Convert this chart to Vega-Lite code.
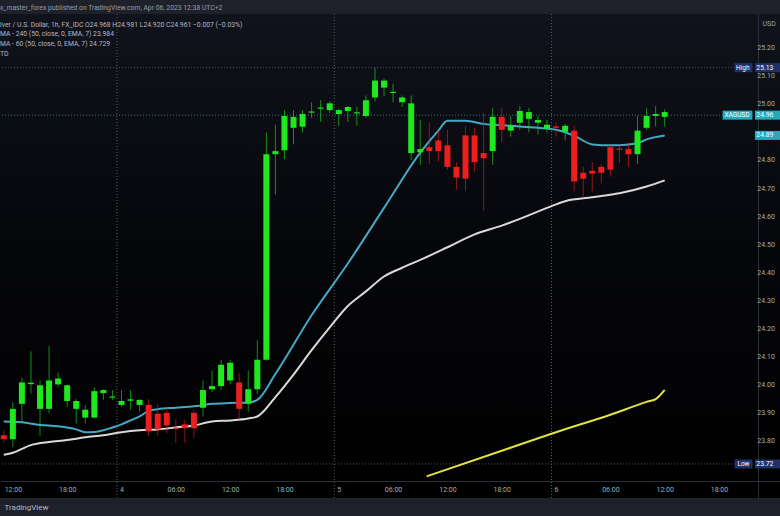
{
  "$schema": "https://vega.github.io/schema/vega-lite/v6.json",
  "width": 780,
  "height": 484,
  "autosize": {"type": "none"},
  "padding": {"left": 0, "top": 14, "right": 0, "bottom": 18},
  "background": "#1e212a",
  "title": {
    "text": "x_master_forex published on TradingView.com, Apr 06, 2023 12:38 UTC+2",
    "subtitle": [
      "lver / U.S. Dollar, 1h, FX_IDC   O24.968  H24.981  L24.920  C24.961  −0.007 (−0.03%)",
      "MA - 240 (50, close, 0, EMA, 7)  23.984",
      "MA - 60 (50, close, 0, EMA, 7)  24.729",
      "TD"
    ],
    "anchor": "start",
    "frame": "group",
    "offset": -44,
    "font": "Roboto",
    "fontSize": 6.8,
    "fontWeight": "normal",
    "color": "#9a9ea8",
    "subtitleFont": "Roboto",
    "subtitleFontSize": 6.8,
    "subtitleColor": "#b4b8c2",
    "subtitlePadding": 10,
    "subtitleLineHeight": 9.6
  },
  "datasets": {
    "candles": [
      {"t": "2023-04-03T11:00:00", "open": 23.822, "high": 23.840, "low": 23.795, "close": 23.808},
      {"t": "2023-04-03T12:00:00", "open": 23.808, "high": 23.940, "low": 23.780, "close": 23.916},
      {"t": "2023-04-03T13:00:00", "open": 23.934, "high": 24.028, "low": 23.871, "close": 24.010},
      {"t": "2023-04-03T14:00:00", "open": 24.004, "high": 24.120, "low": 23.970, "close": 24.009},
      {"t": "2023-04-03T15:00:00", "open": 23.916, "high": 24.017, "low": 23.820, "close": 24.000},
      {"t": "2023-04-03T16:00:00", "open": 23.916, "high": 24.140, "low": 23.900, "close": 24.017},
      {"t": "2023-04-03T17:00:00", "open": 24.003, "high": 24.045, "low": 23.993, "close": 24.024},
      {"t": "2023-04-03T18:00:00", "open": 23.944, "high": 24.003, "low": 23.923, "close": 24.000},
      {"t": "2023-04-03T19:00:00", "open": 23.916, "high": 23.951, "low": 23.864, "close": 23.944},
      {"t": "2023-04-03T20:00:00", "open": 23.885, "high": 23.930, "low": 23.864, "close": 23.913},
      {"t": "2023-04-03T21:00:00", "open": 23.885, "high": 23.993, "low": 23.882, "close": 23.979},
      {"t": "2023-04-03T22:00:00", "open": 23.972, "high": 23.986, "low": 23.948, "close": 23.983},
      {"t": "2023-04-03T23:00:00", "open": 23.956, "high": 23.983, "low": 23.948, "close": 23.960},
      {"t": "2023-04-04T00:00:00", "open": 23.930, "high": 23.983, "low": 23.923, "close": 23.944},
      {"t": "2023-04-04T01:00:00", "open": 23.945, "high": 23.983, "low": 23.913, "close": 23.950},
      {"t": "2023-04-04T02:00:00", "open": 23.930, "high": 23.951, "low": 23.906, "close": 23.948},
      {"t": "2023-04-04T03:00:00", "open": 23.930, "high": 23.951, "low": 23.819, "close": 23.836},
      {"t": "2023-04-04T04:00:00", "open": 23.899, "high": 23.934, "low": 23.819, "close": 23.843},
      {"t": "2023-04-04T05:00:00", "open": 23.902, "high": 23.923, "low": 23.829, "close": 23.857},
      {"t": "2023-04-04T06:00:00", "open": 23.849, "high": 23.882, "low": 23.794, "close": 23.845},
      {"t": "2023-04-04T07:00:00", "open": 23.861, "high": 23.878, "low": 23.794, "close": 23.847},
      {"t": "2023-04-04T08:00:00", "open": 23.902, "high": 23.913, "low": 23.812, "close": 23.847},
      {"t": "2023-04-04T09:00:00", "open": 23.920, "high": 24.017, "low": 23.889, "close": 23.983},
      {"t": "2023-04-04T10:00:00", "open": 23.986, "high": 24.052, "low": 23.976, "close": 23.997},
      {"t": "2023-04-04T11:00:00", "open": 23.997, "high": 24.091, "low": 23.983, "close": 24.073},
      {"t": "2023-04-04T12:00:00", "open": 24.017, "high": 24.091, "low": 24.003, "close": 24.080},
      {"t": "2023-04-04T13:00:00", "open": 24.010, "high": 24.045, "low": 23.878, "close": 23.916},
      {"t": "2023-04-04T14:00:00", "open": 23.934, "high": 24.052, "low": 23.906, "close": 23.986},
      {"t": "2023-04-04T15:00:00", "open": 23.986, "high": 24.160, "low": 23.969, "close": 24.091},
      {"t": "2023-04-04T16:00:00", "open": 24.091, "high": 24.899, "low": 24.087, "close": 24.822},
      {"t": "2023-04-04T17:00:00", "open": 24.822, "high": 24.927, "low": 24.679, "close": 24.833},
      {"t": "2023-04-04T18:00:00", "open": 24.836, "high": 24.979, "low": 24.805, "close": 24.958},
      {"t": "2023-04-04T19:00:00", "open": 24.916, "high": 24.979, "low": 24.857, "close": 24.955},
      {"t": "2023-04-04T20:00:00", "open": 24.920, "high": 24.979, "low": 24.899, "close": 24.965},
      {"t": "2023-04-04T21:00:00", "open": 24.970, "high": 25.007, "low": 24.951, "close": 24.974},
      {"t": "2023-04-04T22:00:00", "open": 24.984, "high": 25.014, "low": 24.937, "close": 24.988},
      {"t": "2023-04-04T23:00:00", "open": 24.979, "high": 25.010, "low": 24.969, "close": 25.003},
      {"t": "2023-04-05T00:00:00", "open": 24.965, "high": 24.983, "low": 24.923, "close": 24.979},
      {"t": "2023-04-05T01:00:00", "open": 24.976, "high": 24.993, "low": 24.937, "close": 24.990},
      {"t": "2023-04-05T02:00:00", "open": 24.967, "high": 24.990, "low": 24.923, "close": 24.971},
      {"t": "2023-04-05T03:00:00", "open": 24.958, "high": 25.031, "low": 24.951, "close": 25.014},
      {"t": "2023-04-05T04:00:00", "open": 25.024, "high": 25.129, "low": 25.010, "close": 25.084},
      {"t": "2023-04-05T05:00:00", "open": 25.059, "high": 25.091, "low": 25.028, "close": 25.084},
      {"t": "2023-04-05T06:00:00", "open": 25.040, "high": 25.073, "low": 25.007, "close": 25.044},
      {"t": "2023-04-05T07:00:00", "open": 25.007, "high": 25.031, "low": 24.990, "close": 25.024},
      {"t": "2023-04-05T08:00:00", "open": 24.826, "high": 25.031, "low": 24.801, "close": 25.003},
      {"t": "2023-04-05T09:00:00", "open": 24.829, "high": 24.944, "low": 24.784, "close": 24.840},
      {"t": "2023-04-05T10:00:00", "open": 24.847, "high": 24.934, "low": 24.787, "close": 24.833},
      {"t": "2023-04-05T11:00:00", "open": 24.871, "high": 24.906, "low": 24.796, "close": 24.833},
      {"t": "2023-04-05T12:00:00", "open": 24.854, "high": 24.909, "low": 24.767, "close": 24.777},
      {"t": "2023-04-05T13:00:00", "open": 24.777, "high": 24.794, "low": 24.697, "close": 24.739},
      {"t": "2023-04-05T14:00:00", "open": 24.889, "high": 24.923, "low": 24.690, "close": 24.735},
      {"t": "2023-04-05T15:00:00", "open": 24.889, "high": 24.916, "low": 24.760, "close": 24.794},
      {"t": "2023-04-05T16:00:00", "open": 24.826, "high": 24.969, "low": 24.620, "close": 24.808},
      {"t": "2023-04-05T17:00:00", "open": 24.833, "high": 24.986, "low": 24.784, "close": 24.955},
      {"t": "2023-04-05T18:00:00", "open": 24.955, "high": 24.986, "low": 24.864, "close": 24.909},
      {"t": "2023-04-05T19:00:00", "open": 24.906, "high": 24.958, "low": 24.885, "close": 24.923},
      {"t": "2023-04-05T20:00:00", "open": 24.934, "high": 24.993, "low": 24.909, "close": 24.976},
      {"t": "2023-04-05T21:00:00", "open": 24.948, "high": 24.986, "low": 24.899, "close": 24.972},
      {"t": "2023-04-05T22:00:00", "open": 24.934, "high": 24.958, "low": 24.892, "close": 24.944},
      {"t": "2023-04-05T23:00:00", "open": 24.913, "high": 24.944, "low": 24.899, "close": 24.927},
      {"t": "2023-04-06T00:00:00", "open": 24.921, "high": 24.934, "low": 24.885, "close": 24.916},
      {"t": "2023-04-06T01:00:00", "open": 24.902, "high": 24.930, "low": 24.871, "close": 24.923},
      {"t": "2023-04-06T02:00:00", "open": 24.906, "high": 24.923, "low": 24.690, "close": 24.725},
      {"t": "2023-04-06T03:00:00", "open": 24.756, "high": 24.777, "low": 24.666, "close": 24.735},
      {"t": "2023-04-06T04:00:00", "open": 24.763, "high": 24.794, "low": 24.690, "close": 24.753},
      {"t": "2023-04-06T05:00:00", "open": 24.777, "high": 24.787, "low": 24.718, "close": 24.756},
      {"t": "2023-04-06T06:00:00", "open": 24.847, "high": 24.854, "low": 24.742, "close": 24.767},
      {"t": "2023-04-06T07:00:00", "open": 24.842, "high": 24.854, "low": 24.791, "close": 24.838},
      {"t": "2023-04-06T08:00:00", "open": 24.840, "high": 24.864, "low": 24.777, "close": 24.822},
      {"t": "2023-04-06T09:00:00", "open": 24.822, "high": 24.958, "low": 24.787, "close": 24.906},
      {"t": "2023-04-06T10:00:00", "open": 24.916, "high": 24.986, "low": 24.909, "close": 24.958},
      {"t": "2023-04-06T11:00:00", "open": 24.958, "high": 24.993, "low": 24.920, "close": 24.965},
      {"t": "2023-04-06T12:00:00", "open": 24.955, "high": 24.981, "low": 24.920, "close": 24.972}
    ],
    "ma": [
      {"t": "2023-04-03T11:00:00", "series": "MA short", "value": 23.871},
      {"t": "2023-04-03T13:00:00", "series": "MA short", "value": 23.868},
      {"t": "2023-04-03T15:00:00", "series": "MA short", "value": 23.859},
      {"t": "2023-04-03T17:00:00", "series": "MA short", "value": 23.854},
      {"t": "2023-04-03T19:00:00", "series": "MA short", "value": 23.843},
      {"t": "2023-04-03T20:00:00", "series": "MA short", "value": 23.833},
      {"t": "2023-04-03T21:00:00", "series": "MA short", "value": 23.834},
      {"t": "2023-04-03T22:00:00", "series": "MA short", "value": 23.840},
      {"t": "2023-04-03T23:00:00", "series": "MA short", "value": 23.850},
      {"t": "2023-04-04T00:00:00", "series": "MA short", "value": 23.861},
      {"t": "2023-04-04T01:00:00", "series": "MA short", "value": 23.875},
      {"t": "2023-04-04T02:00:00", "series": "MA short", "value": 23.889},
      {"t": "2023-04-04T03:00:00", "series": "MA short", "value": 23.909},
      {"t": "2023-04-04T04:00:00", "series": "MA short", "value": 23.915},
      {"t": "2023-04-04T06:00:00", "series": "MA short", "value": 23.920},
      {"t": "2023-04-04T08:00:00", "series": "MA short", "value": 23.925},
      {"t": "2023-04-04T10:00:00", "series": "MA short", "value": 23.934},
      {"t": "2023-04-04T12:00:00", "series": "MA short", "value": 23.937},
      {"t": "2023-04-04T14:00:00", "series": "MA short", "value": 23.939},
      {"t": "2023-04-04T15:00:00", "series": "MA short", "value": 23.948},
      {"t": "2023-04-04T17:00:00", "series": "MA short", "value": 24.040},
      {"t": "2023-04-04T21:00:00", "series": "MA short", "value": 24.249},
      {"t": "2023-04-05T01:00:00", "series": "MA short", "value": 24.433},
      {"t": "2023-04-05T05:00:00", "series": "MA short", "value": 24.631},
      {"t": "2023-04-05T09:00:00", "series": "MA short", "value": 24.828},
      {"t": "2023-04-05T11:00:00", "series": "MA short", "value": 24.906},
      {"t": "2023-04-05T12:00:00", "series": "MA short", "value": 24.941},
      {"t": "2023-04-05T14:00:00", "series": "MA short", "value": 24.941},
      {"t": "2023-04-05T16:00:00", "series": "MA short", "value": 24.930},
      {"t": "2023-04-05T19:00:00", "series": "MA short", "value": 24.923},
      {"t": "2023-04-05T22:00:00", "series": "MA short", "value": 24.916},
      {"t": "2023-04-06T00:00:00", "series": "MA short", "value": 24.909},
      {"t": "2023-04-06T02:00:00", "series": "MA short", "value": 24.888},
      {"t": "2023-04-06T04:00:00", "series": "MA short", "value": 24.857},
      {"t": "2023-04-06T06:00:00", "series": "MA short", "value": 24.854},
      {"t": "2023-04-06T08:00:00", "series": "MA short", "value": 24.857},
      {"t": "2023-04-06T09:00:00", "series": "MA short", "value": 24.861},
      {"t": "2023-04-06T10:00:00", "series": "MA short", "value": 24.875},
      {"t": "2023-04-06T12:00:00", "series": "MA short", "value": 24.889},
      {"t": "2023-04-03T11:00:00", "series": "EMA 60", "value": 23.753},
      {"t": "2023-04-03T12:00:00", "series": "EMA 60", "value": 23.760},
      {"t": "2023-04-03T14:00:00", "series": "EMA 60", "value": 23.787},
      {"t": "2023-04-03T16:00:00", "series": "EMA 60", "value": 23.798},
      {"t": "2023-04-03T18:00:00", "series": "EMA 60", "value": 23.805},
      {"t": "2023-04-03T20:00:00", "series": "EMA 60", "value": 23.815},
      {"t": "2023-04-03T22:00:00", "series": "EMA 60", "value": 23.822},
      {"t": "2023-04-04T00:00:00", "series": "EMA 60", "value": 23.833},
      {"t": "2023-04-04T02:00:00", "series": "EMA 60", "value": 23.840},
      {"t": "2023-04-04T04:00:00", "series": "EMA 60", "value": 23.843},
      {"t": "2023-04-04T06:00:00", "series": "EMA 60", "value": 23.850},
      {"t": "2023-04-04T08:00:00", "series": "EMA 60", "value": 23.857},
      {"t": "2023-04-04T10:00:00", "series": "EMA 60", "value": 23.871},
      {"t": "2023-04-04T12:00:00", "series": "EMA 60", "value": 23.875},
      {"t": "2023-04-04T14:00:00", "series": "EMA 60", "value": 23.882},
      {"t": "2023-04-04T15:00:00", "series": "EMA 60", "value": 23.889},
      {"t": "2023-04-04T17:00:00", "series": "EMA 60", "value": 23.958},
      {"t": "2023-04-04T19:00:00", "series": "EMA 60", "value": 24.038},
      {"t": "2023-04-04T21:00:00", "series": "EMA 60", "value": 24.125},
      {"t": "2023-04-04T23:00:00", "series": "EMA 60", "value": 24.206},
      {"t": "2023-04-05T01:00:00", "series": "EMA 60", "value": 24.282},
      {"t": "2023-04-05T03:00:00", "series": "EMA 60", "value": 24.334},
      {"t": "2023-04-05T05:00:00", "series": "EMA 60", "value": 24.387},
      {"t": "2023-04-05T07:00:00", "series": "EMA 60", "value": 24.418},
      {"t": "2023-04-05T09:00:00", "series": "EMA 60", "value": 24.446},
      {"t": "2023-04-05T12:00:00", "series": "EMA 60", "value": 24.491},
      {"t": "2023-04-05T15:00:00", "series": "EMA 60", "value": 24.537},
      {"t": "2023-04-05T18:00:00", "series": "EMA 60", "value": 24.568},
      {"t": "2023-04-05T20:00:00", "series": "EMA 60", "value": 24.592},
      {"t": "2023-04-05T23:00:00", "series": "EMA 60", "value": 24.631},
      {"t": "2023-04-06T01:00:00", "series": "EMA 60", "value": 24.655},
      {"t": "2023-04-06T04:00:00", "series": "EMA 60", "value": 24.669},
      {"t": "2023-04-06T07:00:00", "series": "EMA 60", "value": 24.683},
      {"t": "2023-04-06T10:00:00", "series": "EMA 60", "value": 24.707},
      {"t": "2023-04-06T12:00:00", "series": "EMA 60", "value": 24.729},
      {"t": "2023-04-05T09:42:00", "series": "EMA 240", "value": 23.676},
      {"t": "2023-04-05T18:00:00", "series": "EMA 240", "value": 23.767},
      {"t": "2023-04-06T00:00:00", "series": "EMA 240", "value": 23.833},
      {"t": "2023-04-06T06:00:00", "series": "EMA 240", "value": 23.895},
      {"t": "2023-04-06T10:00:00", "series": "EMA 240", "value": 23.941},
      {"t": "2023-04-06T11:00:00", "series": "EMA 240", "value": 23.951},
      {"t": "2023-04-06T12:00:00", "series": "EMA 240", "value": 23.984}
    ],
    "sessions": [
      {"t": "2023-04-03T23:30:00"},
      {"t": "2023-04-04T23:30:00"},
      {"t": "2023-04-05T23:30:00"}
    ],
    "levels": [
      {"price": 25.13, "kind": "high"},
      {"price": 24.961, "kind": "last"},
      {"price": 23.72, "kind": "low"}
    ],
    "priceScale": [
      {"price": 23.8}, {"price": 23.9}, {"price": 24.0}, {"price": 24.1}, {"price": 24.2},
      {"price": 24.3}, {"price": 24.4}, {"price": 24.5}, {"price": 24.6}, {"price": 24.7},
      {"price": 24.8}, {"price": 25.0}, {"price": 25.1}, {"price": 25.2}
    ],
    "valueTags": [
      {"price": 25.13, "label": "25.13", "kind": "hl"},
      {"price": 24.961, "label": "24.96", "kind": "last"},
      {"price": 24.889, "label": "24.89", "kind": "last"},
      {"price": 23.72, "label": "23.72", "kind": "hl"}
    ],
    "nameTags": [
      {"price": 25.13, "label": "High", "kind": "hl"},
      {"price": 24.961, "label": "XAGUSD", "kind": "last"},
      {"price": 23.72, "label": "Low", "kind": "hl"}
    ]
  },
  "layer": [
    {
      "data": {"name": "sessions"},
      "mark": {"type": "rule", "strokeDash": [1, 2], "strokeWidth": 1, "color": "#5e5e50"},
      "encoding": {
        "x": {"field": "t", "type": "temporal"}
      }
    },
    {
      "data": {"name": "levels"},
      "mark": {"type": "rule", "strokeDash": [1, 2], "strokeWidth": 1},
      "encoding": {
        "y": {"field": "price", "type": "quantitative"},
        "color": {"condition": {"test": "datum.kind == 'last'", "value": "#3e6e78"}, "value": "#4d515c"}
      }
    },
    {
      "data": {"name": "ma"},
      "mark": {"type": "line", "strokeWidth": 2, "interpolate": "monotone"},
      "encoding": {
        "x": {"field": "t", "type": "temporal"},
        "y": {"field": "value", "type": "quantitative"},
        "color": {
          "field": "series",
          "type": "nominal",
          "scale": {"domain": ["MA short", "EMA 60", "EMA 240"], "range": ["#45a9c6", "#d9d9d9", "#e4e23c"]},
          "legend": null
        }
      }
    },
    {
      "data": {"name": "candles"},
      "mark": {"type": "rule", "strokeWidth": 1, "opacity": 0.6},
      "encoding": {
        "x": {"field": "t", "type": "temporal"},
        "y": {"field": "low", "type": "quantitative"},
        "y2": {"field": "high"},
        "color": {"condition": {"test": "datum.close >= datum.open", "value": "#1fe81f"}, "value": "#ec1e1e"}
      }
    },
    {
      "data": {"name": "candles"},
      "mark": {"type": "bar", "size": 6},
      "encoding": {
        "x": {
          "field": "t",
          "type": "temporal",
          "title": "TradingView",
          "scale": {
            "domain": [
              {"year": 2023, "month": 4, "date": 3, "hours": 11, "minutes": 8},
              {"year": 2023, "month": 4, "date": 7, "hours": 0, "minutes": 11}
            ]
          },
          "axis": {
            "orient": "bottom",
            "offset": -17,
            "values": [
              {"year": 2023, "month": 4, "date": 3, "hours": 12},
              {"year": 2023, "month": 4, "date": 3, "hours": 18},
              {"year": 2023, "month": 4, "date": 4, "hours": 0},
              {"year": 2023, "month": 4, "date": 4, "hours": 6},
              {"year": 2023, "month": 4, "date": 4, "hours": 12},
              {"year": 2023, "month": 4, "date": 4, "hours": 18},
              {"year": 2023, "month": 4, "date": 5, "hours": 0},
              {"year": 2023, "month": 4, "date": 5, "hours": 6},
              {"year": 2023, "month": 4, "date": 5, "hours": 12},
              {"year": 2023, "month": 4, "date": 5, "hours": 18},
              {"year": 2023, "month": 4, "date": 6, "hours": 0},
              {"year": 2023, "month": 4, "date": 6, "hours": 6},
              {"year": 2023, "month": 4, "date": 6, "hours": 12},
              {"year": 2023, "month": 4, "date": 6, "hours": 18}
            ],
            "labelExpr": "hours(datum.value) == 0 ? '' + date(datum.value) : timeFormat(datum.value, '%H:%M')",
            "labelPadding": 4,
            "labelFlush": false,
            "labelOverlap": false,
            "ticks": false,
            "grid": false,
            "domain": true,
            "domainColor": "#2b2f3a",
            "titleAnchor": "start",
            "titleAlign": "left",
            "titleX": 4,
            "titleY": 26,
            "titleBaseline": "middle",
            "titleFont": "Roboto",
            "titleFontSize": 8,
            "titleFontWeight": "normal",
            "titleColor": "#b4b9c3"
          }
        },
        "y": {
          "field": "open",
          "type": "quantitative",
          "title": "USD",
          "scale": {"domain": [23.6167, 25.3031], "zero": false, "nice": false},
          "axis": {
            "orient": "right",
            "offset": -22,
            "labels": false,
            "ticks": false,
            "grid": false,
            "domain": true,
            "domainColor": "#2b2f3a",
            "titleAngle": 0,
            "titleAlign": "left",
            "titleBaseline": "middle",
            "titleX": 4,
            "titleY": 9,
            "titleFont": "Roboto",
            "titleFontSize": 7,
            "titleFontWeight": "normal",
            "titleColor": "#9aa5ae"
          }
        },
        "y2": {"field": "close"},
        "color": {"condition": {"test": "datum.close >= datum.open", "value": "#1fe81f"}, "value": "#ec1e1e"}
      }
    },
    {
      "data": {"name": "priceScale"},
      "mark": {"type": "text", "font": "Roboto", "fontSize": 7, "align": "left", "baseline": "middle", "color": "#9fb0b7"},
      "encoding": {
        "x": {"datum": {"year": 2023, "month": 4, "date": 6, "hours": 22, "minutes": 14}, "type": "temporal"},
        "y": {"field": "price", "type": "quantitative"},
        "text": {"field": "price", "type": "quantitative", "format": ".2f"}
      }
    },
    {
      "data": {"name": "valueTags"},
      "mark": {"type": "bar", "size": 9},
      "encoding": {
        "x": {"datum": {"year": 2023, "month": 4, "date": 6, "hours": 21, "minutes": 58}, "type": "temporal"},
        "x2": {"datum": {"year": 2023, "month": 4, "date": 7, "hours": 1, "minutes": 0}},
        "y": {"field": "price", "type": "quantitative"},
        "color": {"condition": {"test": "datum.kind == 'last'", "value": "#23aabd"}, "value": "#22306a"}
      }
    },
    {
      "data": {"name": "valueTags"},
      "mark": {"type": "text", "font": "Roboto", "fontSize": 6.8, "align": "center", "baseline": "middle", "color": "#ffffff"},
      "encoding": {
        "x": {"datum": {"year": 2023, "month": 4, "date": 6, "hours": 23, "minutes": 4}, "type": "temporal"},
        "y": {"field": "price", "type": "quantitative"},
        "text": {"field": "label"}
      }
    },
    {
      "data": {"name": "nameTags"},
      "transform": [{"filter": "datum.kind == 'hl'"}],
      "mark": {"type": "bar", "size": 9, "color": "#22306a"},
      "encoding": {
        "x": {"datum": {"year": 2023, "month": 4, "date": 6, "hours": 19, "minutes": 43}, "type": "temporal"},
        "x2": {"datum": {"year": 2023, "month": 4, "date": 6, "hours": 21, "minutes": 41}},
        "y": {"field": "price", "type": "quantitative"}
      }
    },
    {
      "data": {"name": "nameTags"},
      "transform": [{"filter": "datum.kind == 'last'"}],
      "mark": {"type": "bar", "size": 9, "color": "#23aabd"},
      "encoding": {
        "x": {"datum": {"year": 2023, "month": 4, "date": 6, "hours": 18, "minutes": 24}, "type": "temporal"},
        "x2": {"datum": {"year": 2023, "month": 4, "date": 6, "hours": 21, "minutes": 41}},
        "y": {"field": "price", "type": "quantitative"}
      }
    },
    {
      "data": {"name": "nameTags"},
      "mark": {"type": "text", "font": "Roboto", "fontSize": 6.5, "align": "right", "baseline": "middle", "color": "#ffffff"},
      "encoding": {
        "x": {"datum": {"year": 2023, "month": 4, "date": 6, "hours": 21, "minutes": 22}, "type": "temporal"},
        "y": {"field": "price", "type": "quantitative"},
        "text": {"field": "label"}
      }
    }
  ],
  "config": {
    "view": {
      "stroke": null,
      "fill": {
        "gradient": "linear",
        "x1": 0, "y1": 0, "x2": 0, "y2": 1,
        "stops": [
          {"offset": 0, "color": "#10131b"},
          {"offset": 0.5, "color": "#05060a"},
          {"offset": 1, "color": "#000000"}
        ]
      }
    },
    "axis": {
      "labelFont": "Roboto",
      "labelFontSize": 7,
      "labelColor": "#9fb0b7"
    }
  }
}
